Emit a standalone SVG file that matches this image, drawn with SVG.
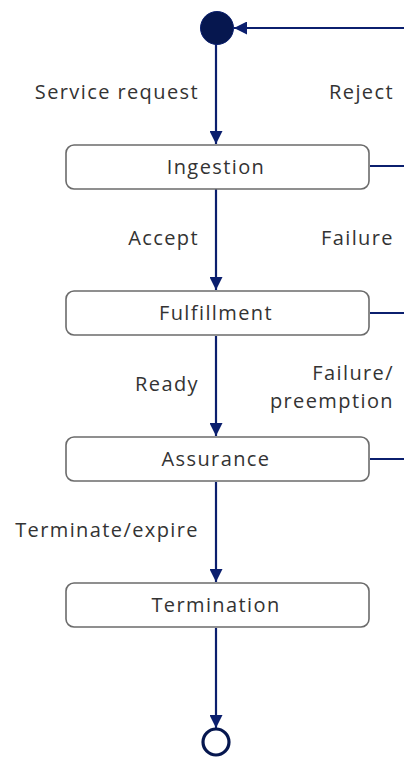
<svg xmlns="http://www.w3.org/2000/svg" width="404" height="758" viewBox="0 0 404 758">
  <style>
    .state rect { fill: #ffffff; stroke: #6b6b6b; stroke-width: 1.6; }
    .state text, .label { font-family: "Open Sans", "Liberation Sans", sans-serif; font-size: 20px; fill: #333333; letter-spacing: 1.4px; }
    .state text { text-anchor: middle; }
    .flow { fill: none; stroke: #0b1f6e; stroke-width: 2.2; }
    .end { text-anchor: end; }
  </style>
  <defs>
    <marker id="arrow" viewBox="0 0 12 12" refX="12" refY="6" markerWidth="13" markerHeight="13" markerUnits="userSpaceOnUse" orient="auto">
      <path d="M0,0 L12,6 L0,12 Z" fill="#0b1f6e"/>
    </marker>
  </defs>

  <!-- transitions -->
  <g id="connectors">
    <line class="flow" x1="216" y1="44" x2="216" y2="144" marker-end="url(#arrow)"/>
    <line class="flow" x1="216" y1="189" x2="216" y2="290" marker-end="url(#arrow)"/>
    <line class="flow" x1="216" y1="336" x2="216" y2="436" marker-end="url(#arrow)"/>
    <line class="flow" x1="216" y1="482" x2="216" y2="582" marker-end="url(#arrow)"/>
    <line class="flow" x1="216" y1="628" x2="216" y2="728" marker-end="url(#arrow)"/>
    <!-- return paths to the initial state -->
    <line class="flow" x1="404" y1="28" x2="234" y2="28" marker-end="url(#arrow)"/>
    <line class="flow" x1="370" y1="166" x2="404" y2="166"/>
    <line class="flow" x1="370" y1="313" x2="404" y2="313"/>
    <line class="flow" x1="370" y1="459" x2="404" y2="459"/>
  </g>

  <g id="labels">
    <text class="label end" x="199" y="99">Service request</text>
    <text class="label end" x="394" y="99">Reject</text>
    <text class="label end" x="199" y="245">Accept</text>
    <text class="label end" x="394" y="245">Failure</text>
    <text class="label end" x="199" y="391">Ready</text>
    <text class="label end" x="394" y="380">Failure/</text>
    <text class="label end" x="394" y="408">preemption</text>
    <text class="label end" x="199" y="537">Terminate/expire</text>
  </g>

  <g id="start">
    <circle cx="217" cy="28" r="16.5" fill="#06174f" stroke="#0b1f6e" stroke-width="1"/>
  </g>

  <g id="ingestion" class="state">
    <rect x="66" y="145" width="303" height="44" rx="8"/>
    <text x="216" y="174">Ingestion</text>
  </g>

  <g id="fulfillment" class="state">
    <rect x="66" y="291" width="303" height="44" rx="8"/>
    <text x="216" y="320">Fulfillment</text>
  </g>

  <g id="assurance" class="state">
    <rect x="66" y="437" width="303" height="44" rx="8"/>
    <text x="216" y="466">Assurance</text>
  </g>

  <g id="termination" class="state">
    <rect x="66" y="583" width="303" height="44" rx="8"/>
    <text x="216" y="612">Termination</text>
  </g>

  <g id="final">
    <circle cx="216" cy="742" r="13" fill="#ffffff" stroke="#06174f" stroke-width="3.2"/>
  </g>
</svg>
